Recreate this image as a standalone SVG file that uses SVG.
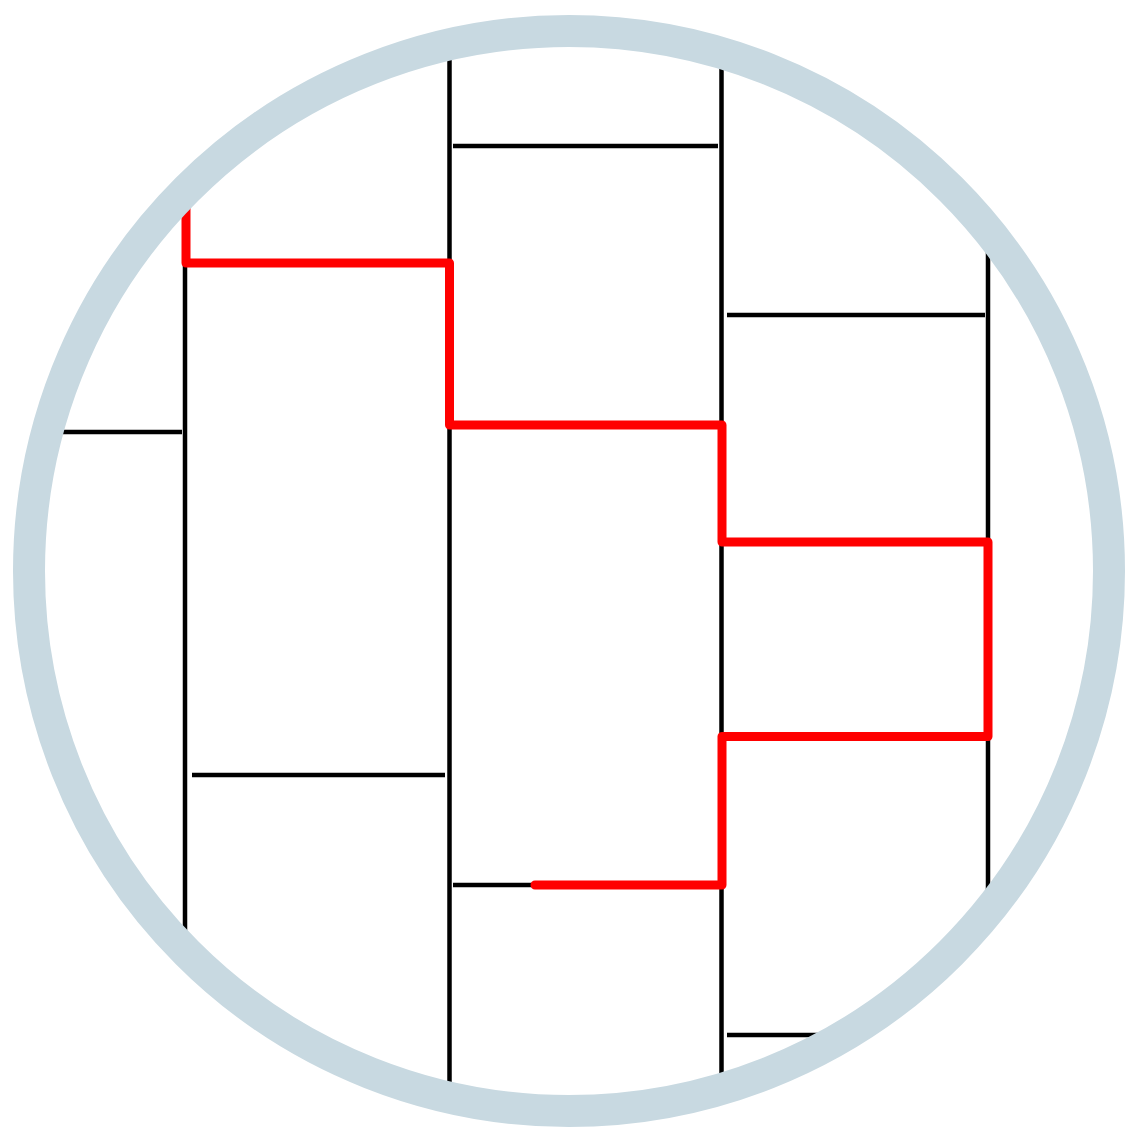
<svg xmlns="http://www.w3.org/2000/svg" width="1134" height="1134" viewBox="0 0 1134 1134">
<style>
.blk{stroke:#000;stroke-width:4.5;fill:none}
.red{stroke:#ff0000;stroke-width:9;fill:none;stroke-linejoin:round;stroke-linecap:round}
.ring{fill:none;stroke:#c8d9e1;stroke-width:32}
</style>
<defs>
<clipPath id="inner"><circle cx="569" cy="571" r="525"/></clipPath>
</defs>
<rect width="1134" height="1134" fill="#fff"/>
<g id="lines" clip-path="url(#inner)">
<line class="blk" x1="185" y1="0" x2="185" y2="1134"/>
<line class="blk" x1="449.5" y1="0" x2="449.5" y2="1134"/>
<line class="blk" x1="721.5" y1="0" x2="721.5" y2="1134"/>
<line class="blk" x1="988" y1="0" x2="988" y2="1134"/>
<line class="blk" x1="453" y1="146" x2="718" y2="146"/>
<line class="blk" x1="727" y1="315" x2="985" y2="315"/>
<line class="blk" x1="0" y1="432" x2="182" y2="432"/>
<line class="blk" x1="192" y1="775" x2="445" y2="775"/>
<line class="blk" x1="453" y1="885" x2="535" y2="885"/>
<line class="blk" x1="727" y1="1035" x2="900" y2="1035"/>
<path class="red" d="M186 150 V263 H449.5 V425 H722 V542 H988 V736.5 H722 V885 H535"/>
</g>
<circle id="ring" class="ring" cx="569" cy="571" r="540"/>
</svg>
